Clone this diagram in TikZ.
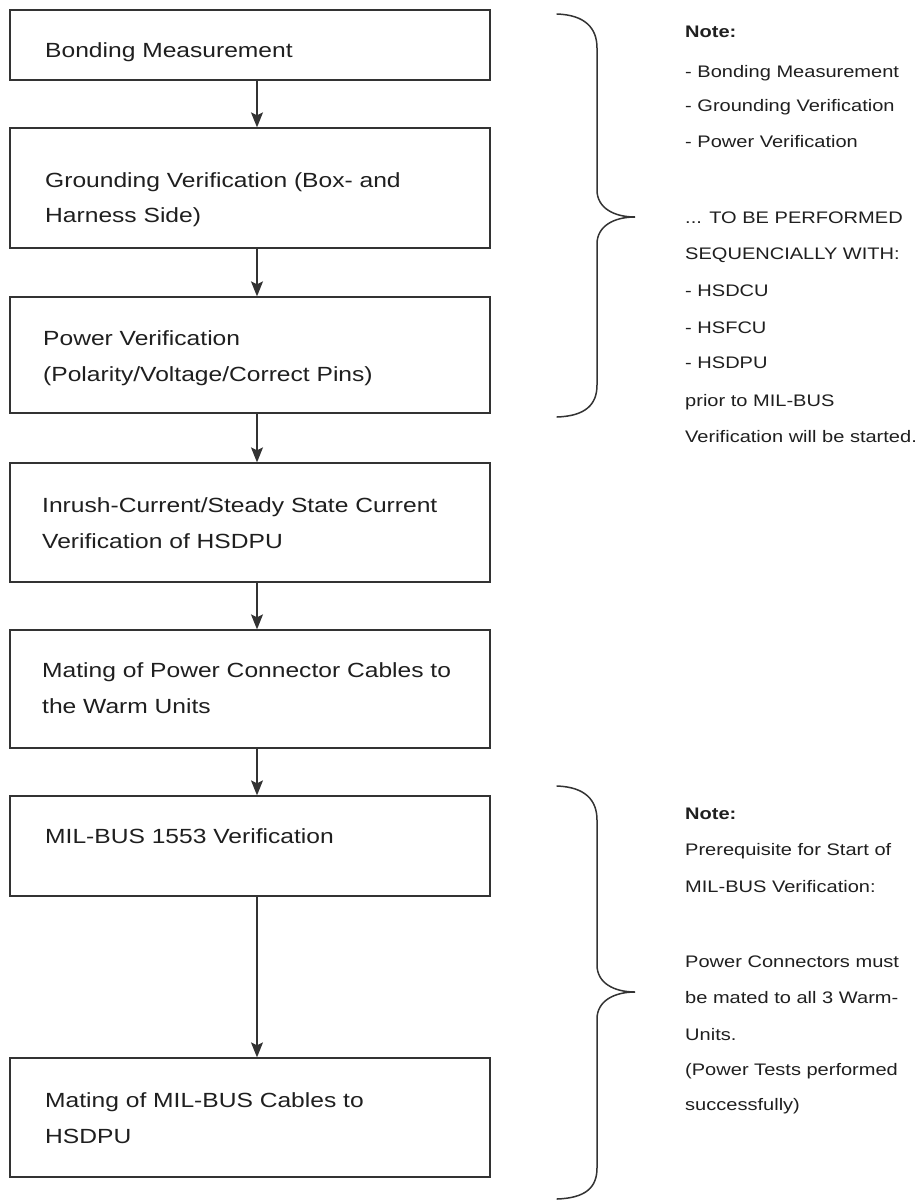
\documentclass[tikz,border=0pt]{standalone}
\usepackage{fontspec}
\setmainfont[FakeStretch=1.2]{Liberation Sans}
\usetikzlibrary{arrows.meta}
\begin{document}
\begin{tikzpicture}[x=1pt,y=-1pt,
  box/.style={draw=black!80, line width=1.3pt, minimum width=480pt, inner sep=0pt, anchor=center},
  btext/.style={anchor=base west, inner sep=0pt, font=\fontsize{20.5}{24}\selectfont, text=black!88},
  ntext/.style={anchor=base west, inner sep=0pt, font=\fontsize{16.7}{20}\selectfont, text=black!88},
  flow/.style={draw=black!80, line width=1.3pt, -{Stealth[length=15pt,width=12pt,inset=3pt]}},
  bracestyle/.style={draw=black!80, line width=1.5pt, line cap=round}]
\useasboundingbox[fill=white] (0,0) rectangle (921,1200);

% boxes
\node[box, minimum height=70pt]  (b1) at (250,45) {};
\node[box, minimum height=120pt] (b2) at (250,188) {};
\node[box, minimum height=116pt] (b3) at (250,355) {};
\node[box, minimum height=119pt] (b4) at (250,522.5) {};
\node[box, minimum height=118pt] (b5) at (250,689) {};
\node[box, minimum height=100pt] (b6) at (250,846) {};
\node[box, minimum height=119pt] (b7) at (250,1117.5) {};

% box texts
\node[btext] (t1)  at (45,57)   {Bonding Measurement};
\node[btext] (t2a) at (45,187)  {Grounding Verification (Box- and};
\node[btext] (t2b) at (45,222)  {Harness Side)};
\node[btext] (t3a) at (43,345)  {Power Verification};
\node[btext] (t3b) at (43,381)  {(Polarity/Voltage/Correct Pins)};
\node[btext] (t4a) at (42,512)  {Inrush-Current/Steady State Current};
\node[btext] (t4b) at (42,548)  {Verification of HSDPU};
\node[btext] (t5a) at (42,677)  {Mating of Power Connector Cables to};
\node[btext] (t5b) at (42,713)  {the Warm Units};
\node[btext] (t6)  at (45,843)  {MIL-BUS 1553 Verification};
\node[btext] (t7a) at (45,1107) {Mating of MIL-BUS Cables to};
\node[btext] (t7b) at (45,1143) {HSDPU};

% arrows
\draw[flow] ([xshift=7pt]b1.south) -- ([xshift=7pt]b2.north);
\draw[flow] ([xshift=7pt]b2.south) -- ([xshift=7pt]b3.north);
\draw[flow] ([xshift=7pt]b3.south) -- ([xshift=7pt]b4.north);
\draw[flow] ([xshift=7pt]b4.south) -- ([xshift=7pt]b5.north);
\draw[flow] ([xshift=7pt]b5.south) -- ([xshift=7pt]b6.north);
\draw[flow] ([xshift=7pt]b6.south) -- ([xshift=7pt]b7.north);

% braces
\draw[bracestyle] (557,14) .. controls (585,15) and (597,28) .. (597,48)
  -- (597,190) .. controls (597,208) and (614,217) .. (635,217)
  .. controls (614,217) and (597,226) .. (597,244)
  -- (597,385) .. controls (597,405) and (585,416) .. (557,417);
\draw[bracestyle] (557,786) .. controls (585,787) and (597,800) .. (597,820)
  -- (597,965) .. controls (597,983) and (614,992) .. (635,992)
  .. controls (614,992) and (597,1001) .. (597,1019)
  -- (597,1168) .. controls (597,1188) and (585,1198) .. (557,1199);

% note 1
\node[ntext] (n1a) at (685,37)  {\textbf{Note:}};
\node[ntext] (n1b) at (685,77)  {- Bonding Measurement};
\node[ntext] (n1c) at (685,111) {- Grounding Verification};
\node[ntext] (n1d) at (685,147) {- Power Verification};
\node[ntext] (n1e) at (685,223) {... TO BE PERFORMED};
\node[ntext] (n1f) at (685,259) {SEQUENCIALLY WITH:};
\node[ntext] (n1g) at (685,296) {- HSDCU};
\node[ntext] (n1h) at (685,333) {- HSFCU};
\node[ntext] (n1i) at (685,368) {- HSDPU};
\node[ntext] (n1j) at (685,406) {prior to MIL-BUS};
\node[ntext] (n1k) at (685,442) {Verification will be started.};

% note 2
\node[ntext] (n2a) at (685,819)  {\textbf{Note:}};
\node[ntext] (n2b) at (685,855)  {Prerequisite for Start of};
\node[ntext] (n2c) at (685,892)  {MIL-BUS Verification:};
\node[ntext] (n2d) at (685,967)  {Power Connectors must};
\node[ntext] (n2e) at (685,1003) {be mated to all 3 Warm-};
\node[ntext] (n2f) at (685,1040) {Units.};
\node[ntext] (n2g) at (685,1075) {(Power Tests performed};
\node[ntext] (n2h) at (685,1110) {successfully)};
\end{tikzpicture}
\end{document}
